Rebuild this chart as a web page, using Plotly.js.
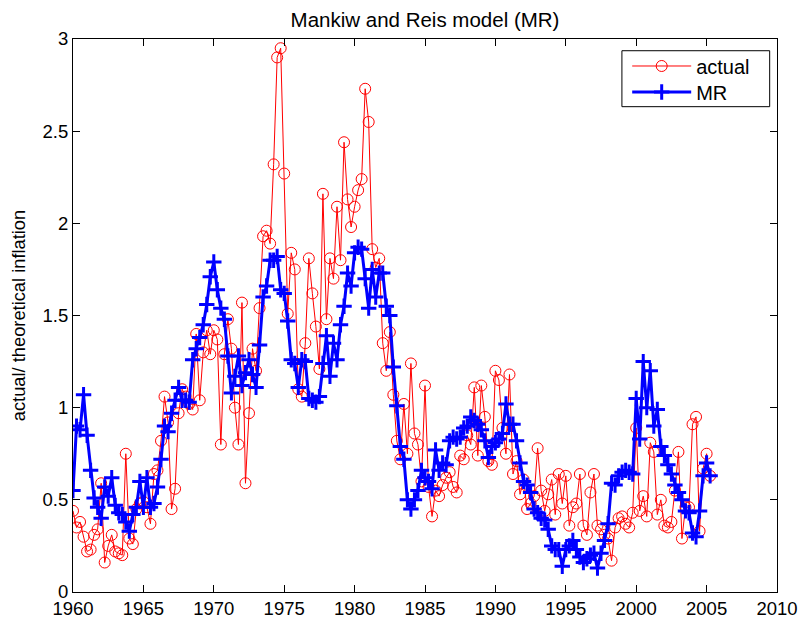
<!DOCTYPE html>
<html>
<head>
<meta charset="utf-8">
<script src="https://cdn.plot.ly/plotly-3.0.1.min.js"></script>
<style>
html,body{margin:0;padding:0;background:#fff;}
#chart{width:803px;height:625px;}
</style>
</head>
<body>
<div id="chart"></div>
<script>
// Quarterly observations, first quarter 1960 onwards
var startYear = 1960;
var periodsPerYear = 4;

var actual = [
0.44,0.35,0.38,0.30,0.22,0.23,0.31,0.34,0.59,0.16,
0.25,0.31,0.22,0.21,0.20,0.75,0.29,0.26,0.45,0.48,
0.49,0.46,0.37,0.64,0.66,0.82,1.06,0.92,0.45,0.56,
0.97,1.10,1.06,1.02,0.99,1.40,1.04,1.30,1.42,1.29,
1.42,1.37,0.80,1.29,1.48,1.32,1.00,0.80,1.57,0.59,
0.97,1.32,1.20,1.54,1.93,1.96,1.89,2.32,2.90,2.95,
2.27,1.51,1.84,1.75,1.10,1.06,1.35,1.81,1.62,1.44,
1.21,2.16,1.48,1.81,1.70,2.09,1.80,2.44,2.13,1.98,
2.09,2.18,2.24,2.73,2.55,1.86,1.76,1.81,1.35,1.20,
1.41,1.07,0.82,0.72,1.02,0.75,1.24,0.86,0.80,0.60,
1.12,0.57,0.41,0.55,0.52,0.58,0.62,0.65,0.57,0.54,
0.74,0.72,0.85,0.80,1.11,0.74,1.12,0.95,0.71,0.69,
1.20,1.15,0.89,0.75,1.18,0.64,0.71,0.53,0.61,0.45,
0.48,0.52,0.78,0.55,0.44,0.53,0.61,0.42,0.64,0.48,
0.63,0.36,0.46,0.48,0.64,0.36,0.31,0.54,0.64,0.36,
0.34,0.31,0.29,0.17,0.35,0.40,0.41,0.37,0.35,0.43,
0.89,0.44,0.52,0.41,0.81,0.76,0.42,0.50,0.36,0.35,
0.38,0.55,0.76,0.29,0.46,0.46,0.91,0.95,0.33,0.67,
0.75,0.63
];

var mr = [
0.55,0.90,0.88,1.07,0.85,0.66,0.51,0.46,0.40,0.57,
0.52,0.62,0.47,0.43,0.42,0.38,0.33,0.42,0.46,0.60,
0.46,0.62,0.46,0.48,0.57,0.72,0.90,0.87,0.97,1.04,
1.11,1.04,1.04,1.03,1.26,1.32,1.38,1.45,1.56,1.71,
1.79,1.64,1.54,1.48,1.28,1.08,1.17,1.28,1.12,1.19,
1.26,1.18,1.11,1.34,1.60,1.66,1.80,1.80,1.82,1.64,
1.62,1.47,1.26,1.24,1.11,1.26,1.25,1.05,1.04,1.03,
1.06,1.24,1.39,1.17,1.35,1.26,1.45,1.55,1.73,1.66,
1.84,1.87,1.86,1.70,1.54,1.75,1.60,1.73,1.73,1.55,
1.50,1.22,1.01,0.79,0.72,0.50,0.45,0.50,0.55,0.66,
0.62,0.60,0.56,0.77,0.66,0.70,0.69,0.82,0.84,0.83,
0.84,0.89,0.90,0.95,0.93,0.91,0.88,0.82,0.73,0.79,
0.81,0.83,0.86,1.02,0.91,0.91,0.82,0.70,0.60,0.58,
0.54,0.45,0.43,0.40,0.39,0.34,0.25,0.23,0.23,0.14,
0.23,0.25,0.28,0.23,0.19,0.16,0.18,0.20,0.21,0.13,
0.21,0.28,0.37,0.59,0.58,0.63,0.65,0.66,0.65,0.64,
1.05,0.83,1.25,1.00,1.20,0.90,0.99,0.79,0.74,0.69,
0.64,0.58,0.54,0.50,0.44,0.43,0.32,0.30,0.44,0.63,
0.70,0.63
];

var xTicks = [1960,1965,1970,1975,1980,1985,1990,1995,2000,2005,2010];
var yTicks = [0,0.5,1,1.5,2,2.5,3];
var yTickText = ['0','0.5','1','1.5','2','2.5','3'];

var time = [];
for (var k = 0; k < actual.length; k++) { time.push(startYear + k / periodsPerYear); }

var FONT = 'Liberation Sans, Arial, Helvetica, sans-serif';

var traces = [
  {
    x: time, y: actual, name: 'actual', type: 'scatter', mode: 'lines+markers', legend: 'legend',
    line: {color: 'rgb(255,0,0)', width: 1},
    marker: {symbol: 'circle-open', size: 11, color: 'rgb(255,0,0)', line: {width: 1, color: 'rgb(255,0,0)'}}
  },
  {
    x: time, y: mr, name: 'MR', type: 'scatter', mode: 'lines+markers', legend: 'legend2',
    line: {color: 'rgb(0,0,255)', width: 3},
    marker: {symbol: 'cross-thin-open', size: 11, color: 'rgb(0,0,255)', line: {width: 3, color: 'rgb(0,0,255)'}}
  }
];

var legendCommon = {
  xanchor: 'left', yanchor: 'middle', bgcolor: 'rgba(0,0,0,0)', borderwidth: 0,
  font: {family: FONT, size: 20, color: '#000'}, itemwidth: 59
};

var layout = {
  width: 803, height: 625,
  margin: {l: 73, r: 26, t: 39, b: 33, pad: 0},
  paper_bgcolor: '#fff', plot_bgcolor: '#fff',
  font: {family: FONT, size: 18.5, color: '#000'},
  title: {text: 'Mankiw and Reis model (MR)', font: {family: FONT, size: 20.5, color: '#000'},
          x: 0.5, xref: 'paper', xanchor: 'center', y: 21, yref: 'container', yanchor: 'middle'},
  showlegend: true,
  legend: Object.assign({x: 0.7872, y: 0.9512}, legendCommon),
  legend2: Object.assign({x: 0.7872, y: 0.9042}, legendCommon),
  shapes: [{type: 'rect', xref: 'paper', yref: 'paper', x0: 0.7797, x1: 0.9896, y0: 0.8776, y1: 0.9788,
            line: {color: '#000', width: 1}, fillcolor: 'rgba(0,0,0,0)', layer: 'above'}],
  xaxis: {
    range: [1960, 2010], tickvals: xTicks, ticktext: xTicks.map(String),
    ticks: 'inside', ticklen: 7, tickwidth: 1, tickcolor: '#000',
    showline: true, linecolor: '#000', linewidth: 1, mirror: 'ticks',
    showgrid: false, zeroline: false, tickfont: {family: FONT, size: 18.5, color: '#000'}
  },
  yaxis: {
    range: [0, 3], tickvals: yTicks, ticktext: yTickText,
    ticks: 'inside', ticklen: 7, tickwidth: 1, tickcolor: '#000',
    showline: true, linecolor: '#000', linewidth: 1, mirror: 'ticks',
    showgrid: false, zeroline: false, tickfont: {family: FONT, size: 18.5, color: '#000'},
    title: {text: 'actual/ theoretical inflation', font: {family: FONT, size: 18.3, color: '#000'}, standoff: 12}
  }
};

Plotly.newPlot('chart', traces, layout, {displayModeBar: false, staticPlot: true});
</script>
</body>
</html>
